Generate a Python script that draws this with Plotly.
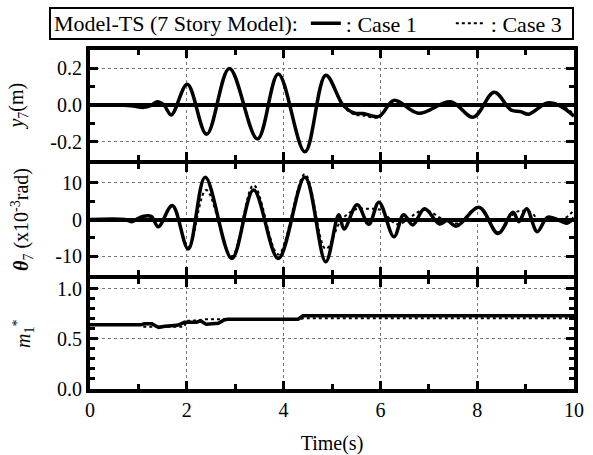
import plotly.graph_objects as go
from plotly.subplots import make_subplots

# ---------------- data ----------------
# Top panel: y7 (m)
t_y_c1 = [0, 0.7, 0.9, 1.11, 1.25, 1.39, 1.53, 1.68, 2.01, 2.41, 2.88, 3.46, 3.89, 4.44, 4.87,
          5.23, 5.47, 5.64, 5.97, 6.28, 6.79, 7.45, 7.92, 8.35, 8.70, 8.90, 9.06, 9.45, 9.72, 10.0]
y_c1 = [0, 0, -0.005, -0.012, -0.003, 0.018, 0.0, -0.053, 0.114, -0.158, 0.200, -0.184, 0.170,
        -0.254, 0.163, 0.0, -0.044, -0.045, -0.061, 0.026, -0.044, 0.018, -0.065, 0.070, -0.026,
        -0.035, -0.049, 0.012, -0.005, -0.060]
t_y_c3 = [0, 0.7, 0.9, 1.11, 1.25, 1.39, 1.53, 1.68, 2.01, 2.41, 2.88, 3.46, 3.89, 4.44, 4.87,
          5.23, 5.47, 5.64, 5.97, 6.28, 6.79, 7.45, 7.92, 8.35, 8.70, 8.90, 9.06, 9.45, 9.72, 10.0]
y_c3 = [0, 0, -0.004, -0.010, -0.002, 0.016, 0.0, -0.050, 0.112, -0.155, 0.198, -0.182, 0.168,
        -0.250, 0.160, -0.005, -0.052, -0.056, -0.066, 0.022, -0.046, 0.015, -0.066, 0.068, -0.030,
        -0.038, -0.050, 0.010, 0.002, -0.050]

# Middle panel: theta7 (x10^-3 rad)
t_th_c1 = [0, 0.72, 0.86, 1.0, 1.11, 1.27, 1.41, 1.70, 2.03, 2.38, 2.93, 3.38, 3.89, 4.44, 4.87,
           5.14, 5.25, 5.52, 5.76, 5.97, 6.28, 6.48, 6.67, 6.91, 7.22, 7.38, 7.57, 8.04, 8.43,
           8.74, 8.86, 9.02, 9.24, 9.45, 9.65, 9.85, 10.0]
th_c1 = [0, 0, -0.6, 0.3, 0.9, 0.8, -2.0, 3.8, -8.0, 11.5, -10.6, 8.0, -10.6, 11.5, -11.5,
         1.3, -2.6, 4.0, -1.3, 4.7, -4.7, 1.3, -1.5, 2.9, -1.2, -0.3, -1.8, 3.3, -3.8,
         2.0, -0.6, 2.9, -3.3, 0.6, 0.0, -1.0, 0.4]
t_th_c3 = [0, 0.72, 0.86, 1.11, 1.27, 1.41, 1.70, 2.03, 2.40, 2.93, 3.38, 3.89, 4.44, 4.87,
           5.2, 5.5, 5.75, 6.0, 6.35, 6.9, 7.3, 7.6, 8.02, 8.43, 8.8, 9.1, 9.3, 9.5, 9.8, 10.0]
th_c3 = [0, 0, -0.5, 0.9, 0.7, -1.8, 3.6, -7.5, 8.0, -10.0, 9.3, -9.5, 12.3, -8.0,
         0.0, 2.8, 2.9, 2.6, -1.3, 2.6, 0.0, -1.0, 3.3, -3.5, 2.0, 2.0, -0.5, 0.0, 0.3, 2.6]

# Bottom panel: m1*
t_m_c1 = [0, 1.05, 1.12, 1.28, 1.35, 1.42, 1.55, 1.62, 1.80, 1.88, 1.95, 2.20, 2.28, 2.40,
          2.48, 2.65, 2.78, 2.85, 4.30, 4.40, 10.0]
m_c1 = [0.64, 0.64, 0.65, 0.65, 0.63, 0.615, 0.625, 0.63, 0.635, 0.65, 0.665, 0.665, 0.68,
        0.645, 0.65, 0.655, 0.69, 0.695, 0.695, 0.73, 0.73]
t_m_c3 = [0, 1.05, 1.10, 1.95, 2.0, 2.30, 2.35, 4.35, 4.40, 10.0]
m_c3 = [0.64, 0.64, 0.62, 0.62, 0.68, 0.685, 0.695, 0.695, 0.705, 0.705]

# tick labels
x_ticks = [0, 2, 4, 6, 8, 10]
x_ticktext = ["0", "2", "4", "6", "8", "10"]
y_ticks = [-0.2, 0.0, 0.2]
y_ticktext = ["-0.2", "0.0", "0.2"]
th_ticks = [-10, 0, 10]
th_ticktext = ["-10", "0", "10"]
m_ticks = [0.0, 0.5, 1.0]
m_ticktext = ["0.0", "0.5", "1.0"]

FONT = "Liberation Serif"
W, H = 593, 455
ML, MR, MT, MB = 90, 19, 50, 66
LW = 4  # frame line width
PW, PH = W - ML - MR, H - MT - MB

fig = make_subplots(rows=3, cols=1, shared_xaxes=True, vertical_spacing=0)

solid = dict(color="black", width=3.5)
dotted = dict(color="black", width=2, dash="dot")

fig.add_trace(go.Scatter(x=t_y_c1, y=y_c1, mode="lines", line=dict(**solid, shape="spline"),
                         name=": Case 1", legendgroup="c1"), row=1, col=1)
fig.add_trace(go.Scatter(x=t_y_c3, y=y_c3, mode="lines", line=dict(**dotted, shape="spline"),
                         name=": Case 3", legendgroup="c3"), row=1, col=1)
fig.add_trace(go.Scatter(x=t_th_c1, y=th_c1, mode="lines", line=dict(**solid, shape="spline"),
                         showlegend=False, legendgroup="c1"), row=2, col=1)
fig.add_trace(go.Scatter(x=t_th_c3, y=th_c3, mode="lines", line=dict(**dotted, shape="spline"),
                         showlegend=False, legendgroup="c3"), row=2, col=1)
fig.add_trace(go.Scatter(x=t_m_c1, y=m_c1, mode="lines", line=solid,
                         showlegend=False, legendgroup="c1"), row=3, col=1)
fig.add_trace(go.Scatter(x=t_m_c3, y=m_c3, mode="lines", line=dotted,
                         showlegend=False, legendgroup="c3"), row=3, col=1)

# panel domains: equal heights, small gaps so the frame lines of adjacent panels coincide
hp = (PH - 2 * LW) / 3.0
doms = []
top = 0.0
for i in range(3):
    bot = top + hp
    doms.append([1 - bot / PH, 1 - top / PH])
    top = bot + LW
doms[2][0] = 0.0

axis_common = dict(showline=True, linecolor="black", linewidth=LW, mirror="ticks",
                   ticks="inside", ticklen=8, tickwidth=2.5, tickcolor="black",
                   showgrid=True, gridcolor="#777777", gridwidth=1, griddash="dot",
                   automargin=False,
                   tickfont=dict(family=FONT, size=20, color="black"))

for r in (1, 2, 3):
    fig.update_xaxes(range=[0, 10], tickvals=x_ticks, ticktext=x_ticktext,
                     minor=dict(dtick=1, ticks="inside", ticklen=5, tickwidth=2.5,
                                tickcolor="black", showgrid=False),
                     zeroline=False, row=r, col=1, **axis_common)

fig.update_xaxes(showticklabels=True, row=3, col=1,
                 title=dict(text="Time(s)", font=dict(family=FONT, size=20, color="black"),
                            standoff=20))

title_font = dict(family=FONT, size=20, color="black")
fig.update_yaxes(range=[-0.3, 0.3], tickvals=y_ticks, ticktext=y_ticktext, domain=doms[0],
                 minor=dict(dtick=0.1, tick0=0, ticks="inside", ticklen=5, tickwidth=2.5,
                            tickcolor="black", showgrid=False),
                 zeroline=True, zerolinecolor="black", zerolinewidth=3.5,
                 title=dict(text="<i>y</i><sub>7</sub>(m)", font=title_font, standoff=22),
                 row=1, col=1, **axis_common)
fig.update_yaxes(range=[-15, 15], tickvals=th_ticks, ticktext=th_ticktext, domain=doms[1],
                 minor=dict(dtick=5, tick0=0, ticks="inside", ticklen=5, tickwidth=2.5,
                            tickcolor="black", showgrid=False),
                 zeroline=True, zerolinecolor="black", zerolinewidth=3.5,
                 title=dict(text="<b><i>θ</i></b><sub>7</sub> (x10<sup>-3</sup>rad)",
                            font=title_font, standoff=22),
                 row=2, col=1, **axis_common)
fig.update_yaxes(range=[0, 1.1], tickvals=m_ticks, ticktext=m_ticktext, domain=doms[2],
                 minor=dict(dtick=0.1, tick0=0, ticks="inside", ticklen=5, tickwidth=2.5,
                            tickcolor="black", showgrid=False),
                 zeroline=False,
                 title=dict(text="<i>m</i><sub>1</sub><sup>*</sup>", font=title_font, standoff=22),
                 row=3, col=1, **axis_common)

# legend frame (box 50..573 px wide, 8..39 px high)
BOX_L, BOX_R, BOX_T, BOX_B = 50, 573, 8, 39
fig.add_shape(type="rect", xref="paper", yref="paper",
              x0=(BOX_L - ML) / PW, x1=(BOX_R - ML) / PW,
              y0=1 + (MT - BOX_B) / PH, y1=1 + (MT - BOX_T) / PH,
              line=dict(color="black", width=2), fillcolor="rgba(0,0,0,0)", layer="above")

fig.update_layout(
    width=W, height=H,
    margin=dict(l=ML, r=MR, t=MT, b=MB, autoexpand=False),
    paper_bgcolor="white", plot_bgcolor="white",
    font=dict(family=FONT, size=20, color="black"),
    showlegend=True,
    legend=dict(orientation="h", xref="container", yref="container",
                x=52 / W, xanchor="left", y=1 - (BOX_T + BOX_B) / 2 / H, yanchor="middle",
                borderwidth=0, bgcolor="rgba(0,0,0,0)",
                font=dict(family=FONT, size=22, color="black"),
                title=dict(text="Model-TS (7 Story Model):", side="left",
                           font=dict(family=FONT, size=22, color="black")),
                itemwidth=30, tracegroupgap=0, entrywidth=100),
)

fig.write_html("out.html")
